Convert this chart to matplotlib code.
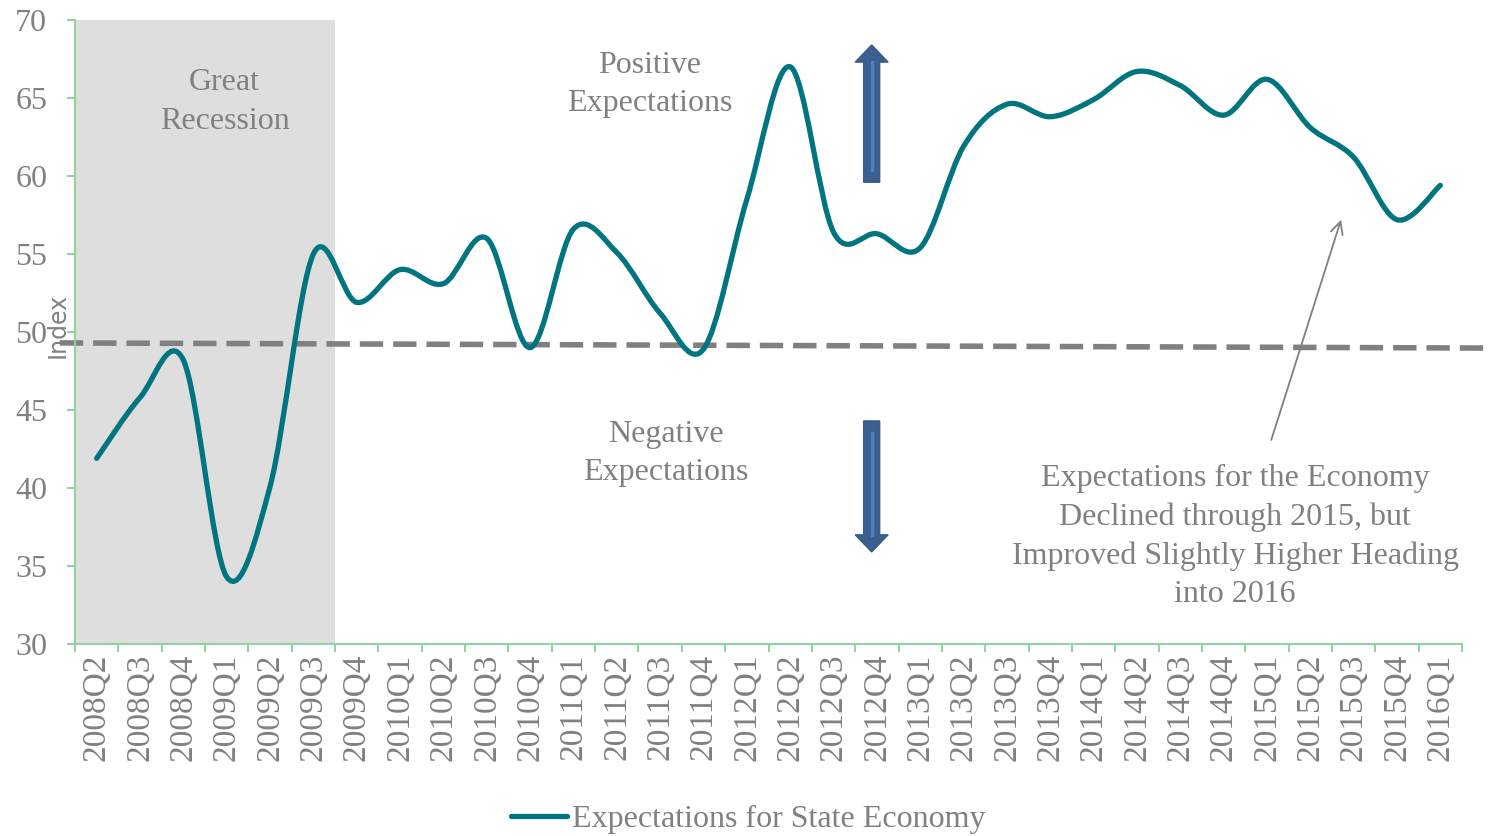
import numpy as np
import matplotlib
matplotlib.use("Agg")
import matplotlib.pyplot as plt
import matplotlib.patches as mpatches
from matplotlib.path import Path
from matplotlib.lines import Line2D

# quarters and index values
quarters = ['2008Q2', '2008Q3', '2008Q4', '2009Q1', '2009Q2', '2009Q3', '2009Q4',
            '2010Q1', '2010Q2', '2010Q3', '2010Q4', '2011Q1', '2011Q2', '2011Q3',
            '2011Q4', '2012Q1', '2012Q2', '2012Q3', '2012Q4', '2013Q1', '2013Q2',
            '2013Q3', '2013Q4', '2014Q1', '2014Q2', '2014Q3', '2014Q4', '2015Q1',
            '2015Q2', '2015Q3', '2015Q4', '2016Q1']
expectations = [41.9, 45.8, 48.2, 34.3, 40.1, 55.0, 51.9, 54.0, 53.1, 56.0, 49.0,
                56.6, 55.1, 51.2, 48.9, 58.5, 67.0, 56.4, 56.3, 55.4, 61.9, 64.6,
                63.8, 64.9, 66.7, 65.8, 63.9, 66.2, 63.1, 61.2, 57.2, 59.4]
yticks = [30, 35, 40, 45, 50, 55, 60, 65, 70]
neutral_line = [49.3, 48.97]

TEAL = '#007580'
GRAY = '#808080'
GREEN = '#92d3a0'
serif = 'Liberation Serif'

def smooth_path(xs, ys):
    # Excel-like smoothed line: cubic bezier segments through every point
    pts = np.column_stack([xs, ys])
    n = len(pts)
    verts = [pts[0]]
    codes = [Path.MOVETO]
    for i in range(n - 1):
        p0 = pts[i - 1] if i > 0 else pts[i]
        p1 = pts[i]
        p2 = pts[i + 1]
        p3 = pts[i + 2] if i + 2 < n else pts[i + 1]
        c1 = p1 + (p2 - p0) / 6.0
        c2 = p2 - (p3 - p1) / 6.0
        verts += [c1, c2, p2]
        codes += [Path.CURVE4] * 3
    return Path(verts, codes)

fig = plt.figure(figsize=(14.9, 8.36), dpi=100)
ax = fig.add_axes([75/1490, 1 - 644/836, (1462-75)/1490, (644-20)/836])

x = np.arange(len(quarters))

# recession shading
ax.axvspan(-0.5, 5.5, color='#dedede', zorder=0, lw=0)

# neutral dashed line (drawn beyond the axes like in the original)
ax.plot([-0.85, 32.1], neutral_line, color=GRAY, lw=4, ls=(0, (4.2, 1.8)),
        clip_on=False, zorder=2)

line = mpatches.PathPatch(smooth_path(x, expectations), facecolor='none',
                          edgecolor=TEAL, lw=3.8, capstyle='round', zorder=3)
ax.add_patch(line)

# blue arrows
for y0, dy in [(59.6, 8.8), (44.3, -8.4)]:
    arr = mpatches.FancyArrow(17.88, y0, 0, dy, width=0.37, head_width=0.76,
                              head_length=1.1, length_includes_head=True,
                              facecolor='#3b5f8f', edgecolor='#385d8a', lw=1, zorder=4)
    ax.add_patch(arr)
    ax.plot([17.88, 17.88], [y0 + 0.02 * np.sign(dy) * 40, y0 + dy - np.sign(dy) * 1.1],
            color='#4f81bd', lw=2.5, zorder=5)

txt = dict(ha='center', va='center', fontsize=23, family=serif, color=GRAY,
           linespacing=1.42)
ax.text(2.95, 64.75, 'Great\nRecession', **txt)
ax.text(12.76, 65.85, 'Positive\nExpectations', **txt)
ax.text(13.13, 42.2, 'Negative\nExpectations', **txt)
ax.text(26.27, 36.9, 'Expectations for the Economy\nDeclined through 2015, but\n'
        'Improved Slightly Higher Heading\ninto 2016', **txt)
ax.annotate('', xy=(28.71, 57.2), xytext=(27.10, 43.08), annotation_clip=False,
            arrowprops=dict(arrowstyle='->', color=GRAY, lw=1.3,
                            shrinkA=0, shrinkB=0, mutation_scale=22))

ax.set_xlim(-0.5, len(quarters) - 0.5)
ax.set_ylim(30, 70)
ax.set_yticks(yticks)
ax.set_xticks(x)
ax.set_xticklabels(quarters, rotation=90, family=serif, fontsize=24, color=GRAY)
ax.set_xticks(np.arange(-0.5, len(quarters)), minor=True)
for lab in ax.get_yticklabels():
    lab.set_family(serif)
    lab.set_fontsize(23)
    lab.set_color(GRAY)
ax.tick_params(axis='x', which='major', length=0, pad=7)
ax.tick_params(axis='x', which='minor', length=6, color=GREEN, width=1.5, direction='out')
ax.tick_params(axis='y', length=6, color=GREEN, width=1.5, pad=14)

for s in ['top', 'right']:
    ax.spines[s].set_visible(False)
for s in ['left', 'bottom']:
    ax.spines[s].set_color(GREEN)
    ax.spines[s].set_linewidth(1.5)

ax.set_ylabel('Index', fontsize=17, color=GRAY, family='DejaVu Sans')
ax.yaxis.set_label_coords(-0.004, 0.51)

handle = Line2D([], [], color=TEAL, lw=3.8, solid_capstyle='round')
fig.legend([handle], ['Expectations for State Economy'], loc='center',
           bbox_to_anchor=(0.502, 0.02), frameon=False, handlelength=1.75,
           handletextpad=0.15, prop={'family': serif, 'size': 23}, labelcolor=GRAY)

fig.savefig('out.png', dpi=100, facecolor='w')
